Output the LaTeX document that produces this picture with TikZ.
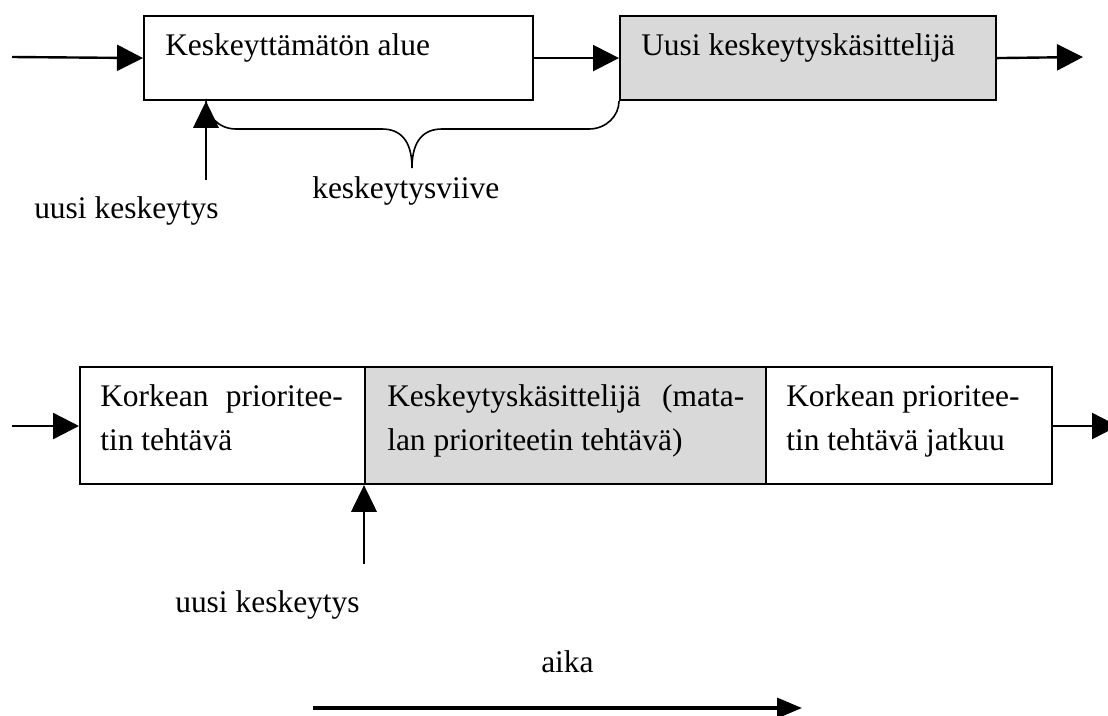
\documentclass[tikz,border=0pt]{standalone}
\usepackage{fontspec}
\setmainfont{Liberation Serif}
\usetikzlibrary{arrows.meta}
\definecolor{handlergray}{RGB}{217,217,217}
\tikzset{
  box/.style={draw, line width=1.6pt, inner sep=0pt, anchor=north west},
  txt/.style={inner sep=0pt, anchor=base west},
  arr/.style={line width=1.8pt, -{Triangle[length=19.5pt, width=19.5pt]}},
  uparr/.style={line width=1.8pt, -{Triangle[length=20pt, width=19pt]}},
  timearr/.style={line width=2.6pt, -{Triangle[length=18.75pt, width=15pt]}},
  bracepath/.style={line width=1.2pt},
}
\begin{document}
\begin{tikzpicture}[x=0.75pt, y=-0.75pt, font=\fontsize{23.6pt}{33pt}\selectfont]
\useasboundingbox (0,0) rectangle (1108,715);

% --- upper timeline: non-interruptible region, then the new handler ---
\node[box, minimum width=291.375pt, minimum height=63pt] (b1) at (143,15) {};
\node[box, fill=handlergray, minimum width=282pt, minimum height=63pt] (b2) at (619,15) {};
\node[txt] (b1t) at (165,55) {Keskeyttämätön alue};
\node[txt] (b2t) at (641,55) {Uusi keskeytyskäsittelijä};

\coordinate (in1) at (12,57);
\coordinate (out1) at (1083,57);
\draw[arr] (in1) -- (b1.west);
\draw[arr] (b1.east) -- (b2.west);
\draw[arr] (b2.east) -- (out1);

% latency brace between interrupt arrival and handler start
\coordinate (brL) at (206,99);
\coordinate (brM) at (412,168);
\draw[bracepath] (brL) .. controls (206,116) and (219,129) .. (236,129)
  -- (382,129) .. controls (400,129) and (412,140) .. (brM)
  .. controls (412,140) and (424,129) .. (442,129)
  -- (589,129) .. controls (606,129) and (619,116) .. (b2.south west);

\coordinate (ev1) at (206,180);
\draw[uparr] (ev1) -- (ev1 |- b1.south);
\node[txt] (ev1t) at (34,218) {uusi keskeytys};
\node[txt] (lat) at (312,198) {keskeytysviive};

% --- lower timeline: high-priority task preempted by a handler ---
\node[box, minimum width=213.75pt, minimum height=87.75pt] (c1) at (79,366) {};
\node[box, fill=handlergray, minimum width=300.75pt, minimum height=87.75pt] (c2) at (364,366) {};
\node[box, minimum width=214.5pt, minimum height=87.75pt] (c3) at (765,366) {};

\node[txt] (c1a) at (100,406) {\makebox[182pt][s]{Korkean prioritee-}};
\node[txt] (c1b) at (100,450) {tin tehtävä};
\node[txt] (c2a) at (387,406) {\makebox[267.75pt][s]{Keskeytyskäsittelijä (mata-}};
\node[txt] (c2b) at (387,450) {lan prioriteetin tehtävä)};
\node[txt] (c3a) at (786,406) {Korkean prioritee-};
\node[txt] (c3b) at (786,450) {tin tehtävä jatkuu};

\coordinate (in2) at (12,426);
\coordinate (out2) at (1118,426);
\draw[arr] (in2) -- (in2 -| c1.west);
\draw[arr] (out2 -| c3.east) -- (out2);

\coordinate (ev2) at (364,564);
\draw[uparr] (ev2) -- (ev2 |- c2.south);
\node[txt] (ev2t) at (175,612) {uusi keskeytys};

% --- time axis ---
\node[txt] (time) at (541,672) {aika};
\coordinate (t0) at (313,708);
\coordinate (t1) at (802,708);
\draw[timearr] (t0) -- (t1);
\end{tikzpicture}
\end{document}
